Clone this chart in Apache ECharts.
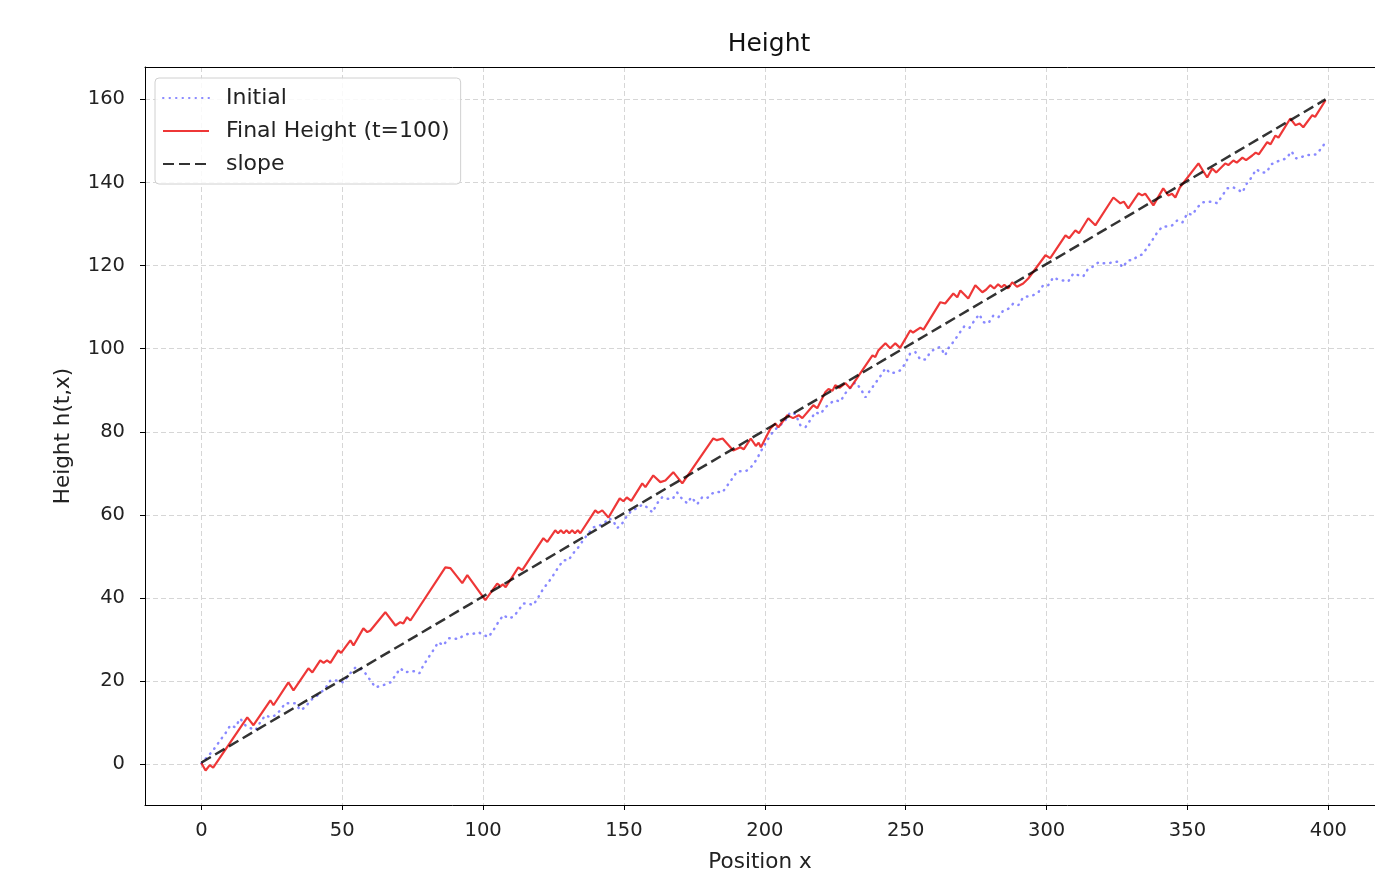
<!DOCTYPE html>
<html>
<head>
<meta charset="utf-8">
<title>Height</title>
<script src="https://cdn.jsdelivr.net/npm/echarts@6/dist/echarts.min.js"></script>
<style>
  html, body { margin: 0; padding: 0; background: #fff; }
  #chart { width: 1375px; height: 878px; }
</style>
</head>
<body>
<div id="chart"></div>
<script>
// values, [x, h]
const initialHeight = [
  [0,0.2],[3.2,2.6],[5,4.1],[6.7,5.8],[8.5,7.4],[10.3,9.4],[12,8.9],[13.8,11],[15.6,9.4],[17.4,8.7],[19.2,8.2],
  [20.9,10.1],[22.7,11.8],[24.5,11.3],[26.3,11.8],[28,13],[29.8,14.7],[31.6,14.7],[33.4,14.7],[35.1,13],[36.9,13.7],
  [38.7,15.4],[40.5,16.2],[42.2,17.1],[44,18.3],[45.8,20.2],[47.6,20.2],[50.4,19.7],[52.2,21.4],[54.7,23.3],[56.5,23],
  [58.2,21.9],[60,20.2],[61.8,18.5],[63.6,18.9],[65.3,19.2],[67.1,19.7],[68.9,21.4],[70.6,23.1],[72.4,22.1],[74.2,22.4],
  [76,22.4],[77.4,21.9],[78.8,23.8],[80.6,25.7],[82.3,27.4],[84.1,29.4],[85.9,28.6],[87.7,30.3],[89.5,30.3],[91.2,30.1],
  [93,31],[94.8,31.4],[96.5,31.4],[98.3,31.8],[100,31.2],[101.9,30.6],[103.6,32.2],[105.4,34.2],[107.2,35.9],[109,35.1],
  [110.8,35.5],[112.5,37],[114.3,38.7],[116,38.7],[117.8,38.3],[119.6,40.2],[121.4,42.3],[123.2,43.8],[124.9,45.5],
  [126.7,47.4],[128.5,49.1],[130.3,49.1],[132,50.8],[133.8,52.2],[135.6,54],[137.4,55.6],[139.1,57],[140.9,57.4],
  [142.7,57.8],[144.5,59.2],[146,58.8],[147.6,56.8],[149.4,58],[151.2,59.9],[153,61.2],[154.7,61.6],[156.5,62.5],
  [158.3,61.8],[160.1,60.6],[161.8,62.8],[163.6,64.3],[165.4,63.9],[167.2,63.8],[168.9,65.4],[170.7,63.8],[172.5,62.8],
  [173.9,64.3],[176,62.6],[177.8,64.3],[179.6,64.1],[181.4,65.2],[183.1,65.6],[184.9,65.4],[186.7,67.1],[188.5,68.8],
  [190.2,70.5],[192,70.5],[193.8,70.7],[195.6,71.9],[197.3,73.6],[198.4,75.1],[200.2,77.2],[202,79.2],[203.7,80.6],
  [205.5,81.6],[207.3,82.8],[209,84.7],[210.8,84.3],[212.6,81.6],[214.4,81.1],[216.1,82.8],[217.9,84.7],[219.7,84.3],
  [221.5,85.9],[223.2,86.9],[225,87.6],[226.8,87.3],[228.6,89.3],[230.3,90.6],[232.1,91.9],[233.9,90.5],[235.7,88.3],
  [237.4,90],[239.2,91.7],[241,93.4],[242.8,95.3],[244.5,94.1],[246.3,94.3],[248.1,94.8],[249.9,96.5],[251.6,98.9],
  [253.4,99.2],[255.2,97.4],[257,97.4],[258.7,99.1],[260.5,100.1],[262.3,100.4],[264,98.4],[265.1,100.1],[267.3,102],
  [269,103.7],[270.8,105.4],[272.6,105],[274.4,106.8],[276.1,108.3],[277.6,106.4],[279.3,106.1],[281.1,108],[282.9,107.6],
  [284.6,109.2],[286.4,109.6],[288.2,110.9],[290,110.5],[291.7,112.4],[293.5,112.6],[295.3,112.9],[297.1,113.6],
  [298.8,115.3],[300.6,115.3],[302.4,117.2],[304.2,116.6],[306,116.4],[307.7,116.2],[309.5,118.1],[311.3,117.7],
  [313,117.4],[314.8,119.3],[316.6,119.8],[318.4,120.8],[320.2,120.6],[322,120.6],[323.8,120.8],[325.5,121],[326.9,119.6],
  [329,121.3],[330.5,121.3],[332.2,122.2],[334,122.7],[335.8,124.4],[337.5,126.1],[339.3,128],[341.1,129.4],[342.8,129.4],
  [344.6,129.7],[346.4,130.9],[348.2,130.4],[350,132.6],[351.7,132.2],[353.5,134],[355.3,135.2],[357,135.4],[358.8,135.4],
  [360.6,135],[362.4,136.9],[364.2,138.6],[366,138.9],[367.7,138.4],[369.5,137.6],[370.9,139.6],[372.7,141.2],
  [374.4,143.2],[376.2,142.4],[378,142.4],[379.8,144.4],[381.6,145],[383.3,145.4],[385.1,145.8],[386.9,147.5],
  [388.6,145.8],[390.4,146.1],[392.2,146.6],[394,146.6],[395.7,146.8],[397.5,148.2],[399,149.7]
];

const finalHeight = [
  [0,0.3],[1.5,-1.5],[3,-0.2],[4.2,-0.8],[16.3,11.3],[18.5,9.4],[24.5,15.4],[25.6,14.2],[30.9,19.7],[32.7,17.8],
  [38,23.1],[39.4,22.1],[42.2,25],[43.4,24.4],[44.6,25],[45.8,24.4],[48.6,27.4],[49.6,26.8],[52.9,29.8],[54,28.6],
  [57.5,32.7],[58.9,31.8],[60,32.2],[65.3,36.6],[68.9,33.4],[70.6,34.2],[71.7,33.9],[73,35.4],[74.2,34.6],[86.6,47.4],
  [88.4,47.2],[92.6,43.6],[94.4,45.5],[100.8,39.5],[105,43.5],[106.2,42.8],[107,43.3],[108,42.6],[112.5,47.4],
  [113.9,46.7],[121.4,54.4],[122.8,53.5],[125.6,56.3],[126.6,55.6],[127.6,56.3],[128.6,55.6],[129.6,56.3],[130.6,55.6],
  [131.6,56.3],[132.6,55.6],[133.6,56.3],[134.5,55.6],[139.8,61.1],[140.8,60.5],[142.3,61.1],[144.5,59.4],[148.5,64],
  [149.8,63.3],[151,64.2],[152.6,63.4],[156.5,67.6],[157.6,66.7],[160.4,69.5],[162.9,67.9],[164.7,68.3],[167.5,70.3],
  [170.7,67.6],[181.7,78.4],[183,78],[185,78.4],[188.8,75.5],[191.3,76.3],[192.5,75.8],[195,78.4],[196.8,76.6],
  [197.8,77.4],[198.6,76.3],[202,80.8],[203.7,82],[204.8,81.1],[208,84],[210,83.3],[212,84],[213.3,83.3],[217.2,86.4],
  [218.6,85.7],[221.5,89.6],[222.6,90.3],[224,89.9],[225,91.2],[226.5,90.6],[228.6,91.7],[230.3,90.5],[238.2,98.4],
  [239.2,98],[240.3,99.6],[242.8,101.3],[244.5,100.1],[246.3,101.3],[248,100.2],[251.6,104.4],[252.6,103.9],
  [255.2,105.1],[256.3,104.6],[262.3,111.2],[264,110.9],[266.9,113.3],[268.3,112.4],[269.4,114],[272.2,112.1],
  [274.7,115.3],[277.2,113.6],[278.5,114.2],[280,115.3],[281.4,114.5],[282.8,115.5],[284,114.8],[285,115.4],
  [286.4,114.5],[287.8,116],[289.5,114.9],[291.7,115.7],[293.5,116.9],[299.6,122.5],[301.3,121.8],[306.7,127.3],
  [308,126.6],[310.2,128.5],[311.5,127.8],[314.8,131.4],[317.3,129.7],[323.7,136.4],[326.2,135],[327.4,135.4],
  [329,133.8],[332.6,137.4],[333.9,136.9],[335,137.3],[337.9,134.5],[341.4,138.6],[343.2,136.9],[344.5,137.3],
  [345.7,136.4],[347.3,138.8],[353.9,144.6],[357,141.2],[358.8,143.4],[360.2,142.4],[363.4,144.6],[364.5,144.2],
  [366.3,145.3],[367.5,144.8],[369.5,146],[370.8,145.4],[373,146.5],[374.2,147.2],[375.3,146.8],[378.3,149.7],
  [379.5,149.2],[381.2,151.3],[382.3,150.8],[386.5,155.4],[388.3,153.8],[389.8,154.2],[391.1,153.3],[394.3,156.2],
  [395.3,155.8],[399,159.8]
];

const slopeLine = [[0, 0.4], [399, 160]];

const xTicks = [0, 50, 100, 150, 200, 250, 300, 350, 400];
const yTicks = [0, 20, 40, 60, 80, 100, 120, 140, 160];

const font = 'DejaVu Sans';
const xMin = -20;
const xMax = 416.56;
const chart = echarts.init(document.getElementById('chart'));

chart.setOption({
  animation: false,
  backgroundColor: '#fff',
  title: {
    text: 'Height',
    left: 764,
    textAlign: 'center',
    top: 27,
    textStyle: { fontFamily: font, fontSize: 25, fontWeight: 'normal', color: '#111' }
  },
  legend: {
    orient: 'vertical',
    left: 155,
    top: 78,
    padding: [9, 11, 9, 7],
    itemWidth: 46,
    itemHeight: 18,
    itemGap: 11,
    backgroundColor: 'rgba(255,255,255,0.85)',
    borderColor: '#d0d0d0',
    borderWidth: 1,
    borderRadius: 4,
    itemStyle: { color: 'rgba(0,0,0,0)', borderWidth: 0, opacity: 0 },
    textStyle: { fontFamily: font, fontSize: 22, color: '#222', padding: [0, 0, 0, 12] },
    data: ['Initial', 'Final Height (t=100)', 'slope']
  },
  grid: {
    left: 145,
    top: 67,
    width: 1230,
    height: 738
  },
  xAxis: [
    {
      type: 'value',
      min: xMin,
      max: xMax,
      name: 'Position x',
      nameLocation: 'middle',
      nameGap: 46,
      nameTextStyle: { fontFamily: font, fontSize: 21.5, color: '#222' },
      axisLine: { show: true, onZero: false, lineStyle: { color: '#000', width: 1 } },
      axisTick: { show: true, length: 5, customValues: xTicks, lineStyle: { color: '#000' } },
      axisLabel: { customValues: xTicks, margin: 16, fontFamily: font, fontSize: 19.5, color: '#222' },
      splitLine: { show: true, lineStyle: { color: '#d6d6d6', type: [5, 3], width: 1 } }
    },
    {
      // top spine only
      type: 'value',
      position: 'top',
      min: xMin,
      max: xMax,
      axisLine: { show: true, onZero: false, lineStyle: { color: '#000', width: 1 } },
      axisTick: { show: false },
      axisLabel: { show: false },
      splitLine: { show: false }
    }
  ],
  yAxis: {
    type: 'value',
    min: -9.8,
    max: 167.8,
    name: 'Height h(t,x)',
    nameLocation: 'middle',
    nameGap: 71,
    nameRotate: 90,
    nameTextStyle: { fontFamily: font, fontSize: 21.5, color: '#222' },
    axisLine: { show: true, onZero: false, lineStyle: { color: '#000', width: 1 } },
    axisTick: { show: true, length: 5, customValues: yTicks, lineStyle: { color: '#000' } },
    axisLabel: { customValues: yTicks, margin: 20, fontFamily: font, fontSize: 19.5, color: '#222' },
    splitLine: { show: true, lineStyle: { color: '#d6d6d6', type: [5, 3], width: 1 } }
  },
  series: [
    {
      name: 'Initial',
      type: 'line',
      data: initialHeight,
      showSymbol: false,
      symbol: 'none',
      color: 'rgba(40,40,255,0.55)',
      lineStyle: { color: 'rgba(40,40,255,0.55)', width: 2.5, type: [0.5, 6], cap: 'round' },
      z: 2
    },
    {
      name: 'Final Height (t=100)',
      type: 'line',
      data: finalHeight,
      showSymbol: false,
      symbol: 'none',
      color: 'rgba(235,20,20,0.85)',
      lineStyle: { color: 'rgba(235,20,20,0.85)', width: 2.2 },
      z: 3
    },
    {
      name: 'slope',
      type: 'line',
      data: slopeLine,
      showSymbol: false,
      symbol: 'none',
      color: 'rgba(0,0,0,0.8)',
      lineStyle: { color: 'rgba(0,0,0,0.8)', width: 2.5, type: [11, 5] },
      z: 4
    }
  ]
});
</script>
</body>
</html>
